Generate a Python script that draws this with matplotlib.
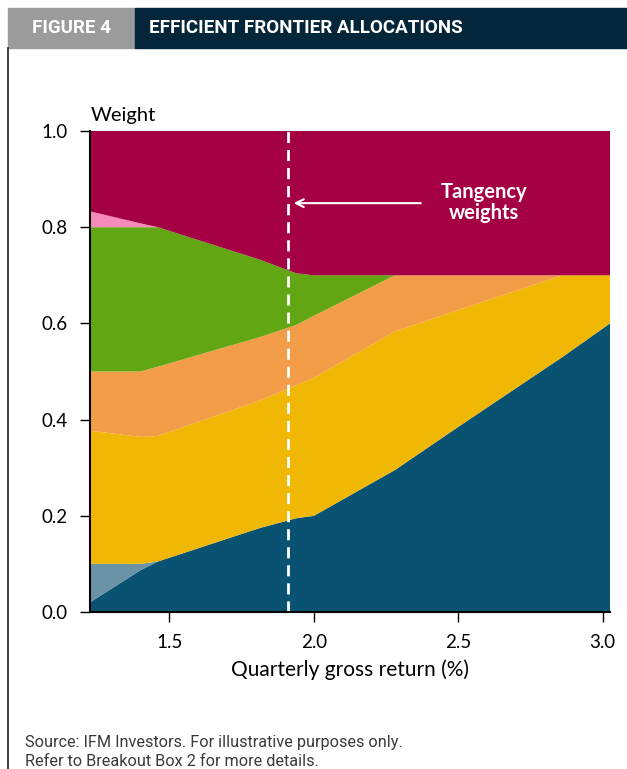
#!/usr/bin/env python3
# -*- coding: utf-8 -*-

import numpy as np
import matplotlib
matplotlib.use("Agg")
import matplotlib.pyplot as plt
from matplotlib.patches import Rectangle
from matplotlib.lines import Line2D

# ============================================================================
# DONNEES (poids par classe d'actifs le long de la frontiere)
# ============================================================================

rendement = [1.225, 1.40, 1.46, 1.815, 1.94, 2.0, 2.28, 2.5, 2.86, 3.025]

poids_bleu_fonce = [0.02, 0.087, 0.105, 0.175, 0.195, 0.20, 0.295, 0.385, 0.53, 0.60]
poids_bleu_clair = [0.08, 0.013, 0.0, 0.0, 0.0, 0.0, 0.0, 0.0, 0.0, 0.0]
poids_jaune = [0.277, 0.264, 0.261, 0.265, 0.277, 0.287, 0.288, 0.243, 0.17, 0.10]
poids_orange = [0.123, 0.136, 0.144, 0.132, 0.125, 0.129, 0.117, 0.072, 0.0, 0.0]
poids_vert = [0.30, 0.30, 0.29, 0.16, 0.107, 0.084, 0.0, 0.0, 0.0, 0.0]
poids_rose = [0.033, 0.008, 0.0, 0.0, 0.0, 0.0, 0.0, 0.0, 0.0, 0.0]
poids_bordeaux = [0.167, 0.192, 0.20, 0.268, 0.296, 0.30, 0.30, 0.30, 0.30, 0.30]

couleurs = ["#0A5271", "#6A93A6", "#F0B705", "#F49D48", "#62A713", "#F68BB9", "#A50044"]

rendement_tangence = 1.91
x_ticks = [1.5, 2.0, 2.5, 3.0]
y_ticks = [0.0, 0.2, 0.4, 0.6, 0.8, 1.0]

W, H = 627, 769
POLICE = "Lato"

# ============================================================================
# FIGURE
# ============================================================================

fig = plt.figure(figsize=(W / 100, H / 100), dpi=100)


def fx(px):
    return px / W


def fy(py):
    return 1 - py / H


# En-tete
fig.patches.append(Rectangle((fx(8), fy(48)), fx(135) - fx(8), fy(8) - fy(48),
                             transform=fig.transFigure, color="#9B9B9B", zorder=0))
fig.patches.append(Rectangle((fx(135), fy(48)), 1 - fx(135), fy(8) - fy(48),
                             transform=fig.transFigure, color="#03263A", zorder=0))
fig.text(fx(72), fy(28), "FIGURE 4", color="white", fontsize=13.5, fontweight="bold",
         family="Roboto", ha="center", va="center")
fig.text(fx(149), fy(28), "EFFICIENT FRONTIER ALLOCATIONS", color="white", fontsize=13.5,
         fontweight="bold", family="Roboto", ha="left", va="center")

# Trait vertical a gauche
fig.lines.append(Line2D([fx(8), fx(8)], [fy(48), 0], transform=fig.transFigure,
                        color="#333333", linewidth=1.3))

# Axes
ax = fig.add_axes([fx(90), fy(612), fx(610) - fx(90), fy(131) - fy(612)])

ax.stackplot(rendement, poids_bleu_fonce, poids_bleu_clair, poids_jaune, poids_orange,
             poids_vert, poids_rose, poids_bordeaux, colors=couleurs, linewidth=0)

ax.set_xlim(rendement[0], rendement[-1])
ax.set_ylim(0, 1)

# Ligne de tangence
ax.axvline(rendement_tangence, color="white", linestyle=(0, (4, 2.5)), linewidth=2)
ax.annotate("", xy=(rendement_tangence + 0.02, 0.85), xytext=(2.37, 0.85),
            arrowprops=dict(arrowstyle="->", color="white", lw=1.5,
                            shrinkA=0, shrinkB=0, mutation_scale=14))
ax.text(2.59, 0.852, "Tangency\nweights", color="white", fontsize=14.5, fontweight="bold",
        family=POLICE, ha="center", va="center", linespacing=1.05)

# Style des axes
for cote in ["top", "right"]:
    ax.spines[cote].set_visible(False)
for cote in ["left", "bottom"]:
    ax.spines[cote].set_linewidth(1.5)
    ax.spines[cote].set_color("black")

ax.set_xticks(x_ticks)
ax.set_xticklabels([f"{v:.1f}" for v in x_ticks])
ax.set_yticks(y_ticks)
ax.set_yticklabels([f"{v:.1f}" for v in y_ticks])
ax.tick_params(axis="both", direction="out", length=7, width=1.0, labelsize=13.5, pad=9)
for lab in ax.get_xticklabels() + ax.get_yticklabels():
    lab.set_family(POLICE)

ax.set_xlabel("Quarterly gross return (%)", fontsize=15, family=POLICE, labelpad=6)
fig.text(fx(91), fy(115), "Weight", fontsize=14.5, family=POLICE, ha="left", va="center")

# Source
fig.text(fx(25), fy(742), "Source: IFM Investors. For illustrative purposes only.",
         fontsize=11.7, family="Roboto", color="#3A3A3A", va="center")
fig.text(fx(25), fy(762), "Refer to Breakout Box 2 for more details.",
         fontsize=11.7, family="Roboto", color="#3A3A3A", va="center")

plt.savefig("out.png", dpi=100)
plt.close()
